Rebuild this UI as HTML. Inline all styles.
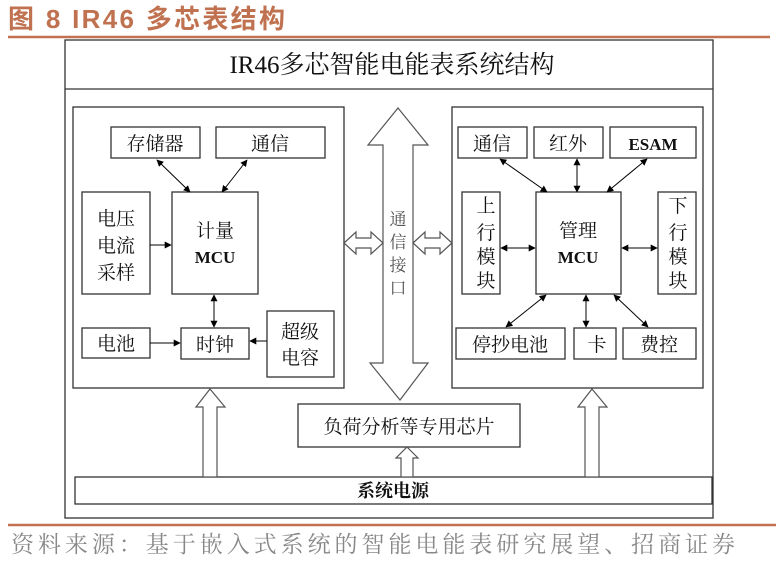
<!DOCTYPE html>
<html><head><meta charset="utf-8"><style>
body{margin:0;background:#fff;width:776px;height:560px;overflow:hidden}
svg text{font-family:"Liberation Serif","Noto Serif CJK SC",serif}
</style></head><body>
<svg width="776" height="560" viewBox="0 0 776 560" xmlns="http://www.w3.org/2000/svg">
<defs>
<marker id="a" viewBox="0 0 10 10" refX="9" refY="5" markerWidth="7" markerHeight="7" orient="auto-start-reverse"><path d="M0,0L10,5L0,10z" fill="#000"/></marker>
</defs>
<text x="8" y="28" font-size="26" font-weight="bold" fill="#c07250" textLength="277" lengthAdjust="spacing" style="font-family:'Liberation Sans','Noto Sans CJK SC',sans-serif">图 8 IR46 多芯表结构</text>
<line x1="8" y1="37" x2="770" y2="37" stroke="#c07250" stroke-width="2.5"/>
<g fill="none" stroke="#333" stroke-width="1.3">
<rect x="65" y="40" width="648" height="478"/>
<line x1="65" y1="89" x2="713" y2="89"/>
<rect x="73" y="107" width="271" height="281"/>
<rect x="111" y="127" width="89" height="31"/>
<rect x="216" y="127" width="109" height="31"/>
<rect x="82" y="192" width="68" height="102"/>
<rect x="172" y="192" width="86" height="102"/>
<rect x="82" y="328" width="68" height="30"/>
<rect x="181" y="328" width="68" height="31"/>
<rect x="267" y="311" width="67" height="66"/>
<rect x="452" y="107" width="251" height="281"/>
<rect x="458" y="127" width="69" height="31"/>
<rect x="534" y="127" width="69" height="31"/>
<rect x="610" y="127" width="86" height="31"/>
<rect x="462" y="192" width="38" height="102"/>
<rect x="536" y="192" width="85" height="102"/>
<rect x="658" y="192" width="38" height="102"/>
<rect x="456" y="328" width="109" height="31"/>
<rect x="574" y="328" width="42" height="31"/>
<rect x="623" y="328" width="73" height="31"/>
<rect x="298" y="404" width="222" height="43"/>
<rect x="75" y="477" width="637" height="27"/>
</g>
<g stroke="#555" stroke-width="1.2" fill="#fff">
<path d="M398,108 L428,145 L413,145 L413,363 L428,363 L400,400 L370,363 L383,363 L383,145 L368,145 Z"/>
<path d="M344,243 L356,232 L356,238 L371,238 L371,232 L383,243 L371,254 L371,248 L356,248 L356,254 Z"/>
<path d="M413,243 L425,232 L425,238 L440,238 L440,232 L452,243 L440,254 L440,248 L425,248 L425,254 Z"/>
<path d="M210,389 L225,407 L217,407 L217,477 L203,477 L203,407 L196,407 Z"/>
<path d="M592,389 L607,407 L599,407 L599,477 L585,477 L585,407 L578,407 Z"/>
<path d="M407,447 L418,458 L413,458 L413,477 L401,477 L401,458 L396,458 Z"/>
</g>
<g stroke="#000" stroke-width="1" marker-start="url(#a)" marker-end="url(#a)">
<line x1="157" y1="160" x2="190" y2="192"/>
<line x1="247" y1="160" x2="222" y2="192"/>
<line x1="214" y1="295" x2="214" y2="327"/>
<line x1="500" y1="159" x2="547" y2="192"/>
<line x1="577" y1="159" x2="577" y2="192"/>
<line x1="647" y1="159" x2="607" y2="192"/>
<line x1="501" y1="248" x2="535" y2="248"/>
<line x1="622" y1="248" x2="657" y2="248"/>
<line x1="546" y1="295" x2="506" y2="327"/>
<line x1="586" y1="295" x2="586" y2="327"/>
<line x1="614" y1="295" x2="648" y2="327"/>
</g>
<g stroke="#000" stroke-width="1" marker-end="url(#a)">
<line x1="150" y1="245" x2="171" y2="245"/>
<line x1="150" y1="343" x2="180" y2="343"/>
<line x1="267" y1="341" x2="250" y2="341"/>
</g>
<g font-size="19" fill="#111" text-anchor="middle">
<text x="392" y="73" font-size="25">IR46多芯智能电能表系统结构</text>
<text x="155" y="150">存储器</text>
<text x="270" y="150">通信</text>
<text x="116" y="225">电压</text>
<text x="116" y="252">电流</text>
<text x="116" y="279">采样</text>
<text x="215" y="237">计量</text>
<text x="215" y="263" font-weight="bold" font-size="17">MCU</text>
<text x="116" y="350">电池</text>
<text x="215" y="351">时钟</text>
<text x="300" y="338">超级</text>
<text x="300" y="364">电容</text>
<text x="492" y="150">通信</text>
<text x="568" y="150">红外</text>
<text x="653" y="150" font-weight="bold" font-size="17">ESAM</text>
<text x="486" y="212">上</text>
<text x="486" y="239">行</text>
<text x="486" y="263">模</text>
<text x="486" y="287">块</text>
<text x="678" y="212">下</text>
<text x="678" y="239">行</text>
<text x="678" y="263">模</text>
<text x="678" y="287">块</text>
<text x="578" y="237">管理</text>
<text x="578" y="263" font-weight="bold" font-size="17">MCU</text>
<text x="510" y="351">停抄电池</text>
<text x="597" y="351">卡</text>
<text x="659" y="351">费控</text>
<text x="409" y="433">负荷分析等专用芯片</text>
<text x="393" y="497" font-size="18" font-weight="bold">系统电源</text>
<g fill="#555" font-size="17"><text x="398" y="225">通</text><text x="398" y="248">信</text><text x="398" y="271">接</text><text x="398" y="294">口</text></g>
</g>
<line x1="8" y1="525" x2="776" y2="525" stroke="#c07250" stroke-width="2.5"/>
<text x="11" y="552" font-size="23" fill="#888" textLength="724" lengthAdjust="spacing">资料来源：基于嵌入式系统的智能电能表研究展望、招商证券</text>
</svg>
</body></html>
